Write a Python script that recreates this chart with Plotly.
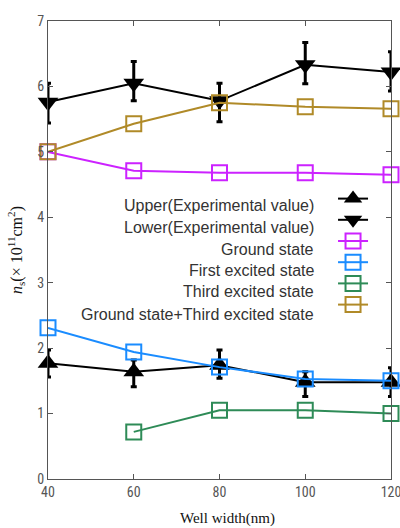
import plotly.graph_objects as go

well_width = [40, 60, 80, 100, 120]

upper_val = [1.77, 1.64, 1.74, 1.48, 1.48]
upper_hi = [1.97, 1.82, 1.97, 1.64, 1.70]
upper_lo = [1.56, 1.41, 1.54, 1.26, 1.26]

lower_val = [5.76, 6.05, 5.78, 6.33, 6.22]
lower_hi = [6.05, 6.38, 6.05, 6.67, 6.53]
lower_lo = [5.44, 5.78, 5.46, 6.04, 5.93]

ground = [5.0, 4.71, 4.68, 4.68, 4.65]
first_exc = [2.31, 1.94, 1.71, 1.53, 1.50]
third_exc = [None, 0.72, 1.05, 1.05, 1.00]
ground_third = [5.0, 5.43, 5.75, 5.69, 5.66]

labels = ["Upper(Experimental value)", "Lower(Experimental value)", "Ground state",
          "First excited state", "Third excited state", "Ground state+Third excited state"]
colors = ["black", "black", "#CC22FF", "#1A8CFF", "#2E8B57", "#B08A28"]

L, R, T, B = 48, 9, 21, 49
PW, PH = 400 - L - R, 528 - T - B

fig = go.Figure()

def err(vals, hi, lo):
    return dict(type="data", symmetric=False,
                array=[h - v for h, v in zip(hi, vals)],
                arrayminus=[v - l for v, l in zip(vals, lo)],
                color="black", thickness=3, width=3)

fig.add_trace(go.Scatter(x=well_width, y=upper_val, name=" ", mode="lines+markers",
                         line=dict(color="black", width=2),
                         marker=dict(symbol="triangle-up", size=18, color="black"),
                         error_y=err(upper_val, upper_hi, upper_lo), cliponaxis=False))
fig.add_trace(go.Scatter(x=well_width, y=lower_val, name=" ", mode="lines+markers",
                         line=dict(color="black", width=2),
                         marker=dict(symbol="triangle-down", size=18, color="black"),
                         error_y=err(lower_val, lower_hi, lower_lo), cliponaxis=False))
for vals, c in zip([ground, first_exc, third_exc, ground_third], colors[2:]):
    fig.add_trace(go.Scatter(x=well_width, y=vals, name=" ", mode="lines+markers",
                             line=dict(color=c, width=2),
                             marker=dict(symbol="square-open", size=15, color=c,
                                         line=dict(width=2, color=c)),
                             cliponaxis=False))

rows_px = [205, 227, 249, 270, 291, 314]
for lab, r in zip(labels, rows_px):
    fig.add_annotation(xref="paper", yref="paper", x=(316 - L) / PW,
                       y=1 - (r - T) / PH, text=lab, showarrow=False,
                       xanchor="right", yanchor="middle",
                       font=dict(family="Liberation Sans, Arial, sans-serif", size=16, color="#333"))

# axis titles
fig.add_annotation(xref="paper", yref="paper", x=(16 - L) / PW, y=1 - (250 - T) / PH,
                   text="<i>n</i><sub>s</sub>(× 10<sup>11</sup>cm<sup>2</sup>)",
                   textangle=-90, showarrow=False, xanchor="center", yanchor="middle",
                   font=dict(family="Liberation Serif, DejaVu Serif, serif", size=16, color="#111"))
fig.add_annotation(xref="paper", yref="paper", x=(228 - L) / PW, y=1 - (518 - T) / PH,
                   text="Well width(nm)", showarrow=False, xanchor="center", yanchor="middle",
                   font=dict(family="Liberation Serif, DejaVu Serif, serif", size=15, color="#111"))

tickfont = dict(family="Liberation Sans Narrow, Arial Narrow, Roboto Condensed, Liberation Sans",
                size=14, color="#555")

fig.update_layout(
    width=400, height=528,
    margin=dict(l=L, r=R, t=T, b=B, autoexpand=False),
    plot_bgcolor="white", paper_bgcolor="white",
    showlegend=True,
    legend=dict(x=0.831, y=1 - (183 - T) / PH, xanchor="left", yanchor="top",
                bgcolor="rgba(0,0,0,0)", borderwidth=0, tracegroupgap=0,
                font=dict(size=14)),
    xaxis=dict(range=[40, 120], tickvals=well_width, showgrid=False, zeroline=False,
               showline=True, linecolor="#555", linewidth=1, mirror="ticks",
               ticks="inside", ticklen=5, tickcolor="#555", automargin=False,
               ticklabeloverflow="allow", tickfont=tickfont),
    yaxis=dict(range=[0, 7], dtick=1, showgrid=False, zeroline=False,
               showline=True, linecolor="#555", linewidth=1, mirror="ticks",
               ticks="inside", ticklen=5, tickcolor="#555", automargin=False,
               ticklabeloverflow="allow", tickfont=tickfont),
)

fig.write_html("out.html", config={"displayModeBar": False},
               post_script="document.body.style.margin='0';document.body.style.overflow='hidden';")
